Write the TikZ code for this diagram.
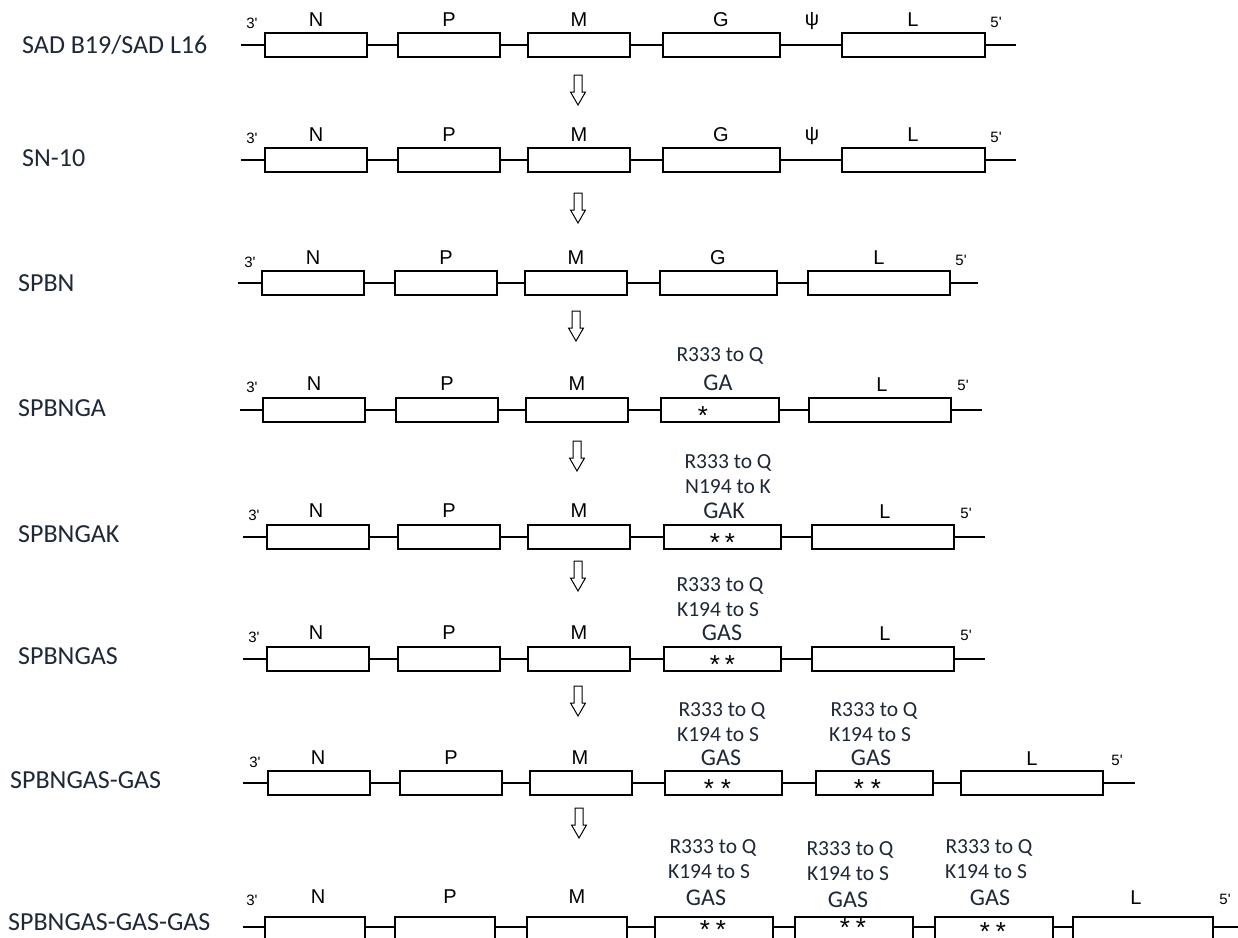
\documentclass[tikz,border=0pt]{standalone}
\usepackage{fontspec}
\setmainfont{Carlito}
\newfontfamily\arialf{Liberation Sans}
\definecolor{labc}{RGB}{30,40,55}
\newcommand{\gbox}[4]{\node[gene, minimum width={#3-#2}] (#1) at ({(#2+#3)/2},#4) {};}
\begin{document}
\begin{tikzpicture}[x=1pt,y=-1pt,
  gene/.style={draw, line width=1.3pt, rectangle, inner sep=0pt, minimum height=24},
  bb/.style={line width=1.3pt},
  glab/.style={font=\arialf\fontsize{20}{20}\selectfont, inner sep=0pt},
  endlab/.style={font=\arialf\fontsize{15}{15}\selectfont, inner sep=0pt},
  rowlab/.style={anchor=west, font=\fontsize{26}{26}\selectfont, text=labc, inner sep=0pt},
  mut/.style={font=\fontsize{21.5}{21.5}\selectfont, inner sep=0pt, text=labc},
  gas/.style={font=\fontsize{24}{24}\selectfont, inner sep=0pt, text=labc},
  star/.style={font=\arialf\fontsize{26}{26}\selectfont, inner sep=0pt, yshift=-14pt},
  downarr/.pic={\draw[line width=1pt, fill=white] (-4,0) -- (4,0) -- (4,17) -- (7.5,17) -- (0,30) -- (-7.5,17) -- (-4,17) -- cycle;}
]
\useasboundingbox[fill=white] (0,0) rectangle (1238,937);

% ---------- Row 1: SAD B19/SAD L16 ----------
\node[rowlab] (lab1) at (22,45) {SAD B19/SAD L16};
\coordinate (r1s) at (241,45);
\coordinate (r1e) at (1016,45);
\gbox{r1N}{265}{367}{45}
\gbox{r1P}{398}{500}{45}
\gbox{r1M}{528}{630}{45}
\gbox{r1G}{663}{780}{45}
\gbox{r1L}{842}{985}{45}
\draw[bb] (r1s) -- (r1N.west) (r1N.east) -- (r1P.west) (r1P.east) -- (r1M.west)
  (r1M.east) -- (r1G.west) (r1G.east) -- (r1L.west) (r1L.east) -- (r1e);
\node[endlab] (r1t3) at (252,23) {3'};
\node[glab] (r1Nl) at (316,20) {N};
\node[glab] (r1Pl) at (449,20) {P};
\node[glab] (r1Ml) at (579,20) {M};
\node[glab] (r1Gl) at (721,20) {G};
\node[glab] (r1psi) at (812,21) {ψ};
\node[glab] (r1Ll) at (913,20) {L};
\node[endlab] (r1t5) at (996,22) {5'};

\pic at (578,75) {downarr};

% ---------- Row 2: SN-10 ----------
\node[rowlab] (lab2) at (22,158) {SN-10};
\coordinate (r2s) at (241,160);
\coordinate (r2e) at (1016,160);
\gbox{r2N}{265}{367}{160}
\gbox{r2P}{398}{500}{160}
\gbox{r2M}{528}{630}{160}
\gbox{r2G}{663}{780}{160}
\gbox{r2L}{842}{985}{160}
\draw[bb] (r2s) -- (r2N.west) (r2N.east) -- (r2P.west) (r2P.east) -- (r2M.west)
  (r2M.east) -- (r2G.west) (r2G.east) -- (r2L.west) (r2L.east) -- (r2e);
\node[endlab] (r2t3) at (252,138) {3'};
\node[glab] (r2Nl) at (316,135) {N};
\node[glab] (r2Pl) at (449,135) {P};
\node[glab] (r2Ml) at (579,135) {M};
\node[glab] (r2Gl) at (721,135) {G};
\node[glab] (r2psi) at (812,136) {ψ};
\node[glab] (r2Ll) at (913,135) {L};
\node[endlab] (r2t5) at (996,137) {5'};

\pic at (578,193) {downarr};

% ---------- Row 3: SPBN ----------
\node[rowlab] (lab3) at (18,283) {SPBN};
\coordinate (r3s) at (238,283);
\coordinate (r3e) at (978,283);
\gbox{r3N}{262}{364}{283}
\gbox{r3P}{395}{497}{283}
\gbox{r3M}{525}{627}{283}
\gbox{r3G}{660}{777}{283}
\gbox{r3L}{808}{950}{283}
\draw[bb] (r3s) -- (r3N.west) (r3N.east) -- (r3P.west) (r3P.east) -- (r3M.west)
  (r3M.east) -- (r3G.west) (r3G.east) -- (r3L.west) (r3L.east) -- (r3e);
\node[endlab] (r3t3) at (250,262) {3'};
\node[glab] (r3Nl) at (313,258) {N};
\node[glab] (r3Pl) at (446,258) {P};
\node[glab] (r3Ml) at (576,258) {M};
\node[glab] (r3Gl) at (718,258) {G};
\node[glab] (r3Ll) at (879,258) {L};
\node[endlab] (r3t5) at (961,260) {5'};

\pic at (576,311) {downarr};

% ---------- Row 4: SPBNGA ----------
\node[rowlab] (lab4) at (18,408) {SPBNGA};
\coordinate (r4s) at (240,410);
\coordinate (r4e) at (982,410);
\gbox{r4N}{263}{365}{410}
\gbox{r4P}{396}{498}{410}
\gbox{r4M}{526}{628}{410}
\gbox{r4G}{661}{779}{410}
\gbox{r4L}{809}{951}{410}
\draw[bb] (r4s) -- (r4N.west) (r4N.east) -- (r4P.west) (r4P.east) -- (r4M.west)
  (r4M.east) -- (r4G.west) (r4G.east) -- (r4L.west) (r4L.east) -- (r4e);
\node[endlab] (r4t3) at (252,387) {3'};
\node[glab] (r4Nl) at (314,384) {N};
\node[glab] (r4Pl) at (447,384) {P};
\node[glab] (r4Ml) at (577,384) {M};
\node[mut] (r4m1) at (720,356) {R333 to Q};
\node[gas] (r4Gl) at (718,383) {GA};
\node[glab] (r4Ll) at (882,385) {L};
\node[endlab] (r4t5) at (963,385) {5'};
\node[star] (r4s1) at (703,410) {\smash{*}};

\pic at (577,441) {downarr};

% ---------- Row 5: SPBNGAK ----------
\node[rowlab] (lab5) at (18,534) {SPBNGAK};
\coordinate (r5s) at (243,537);
\coordinate (r5e) at (985,537);
\gbox{r5N}{267}{369}{537}
\gbox{r5P}{398}{500}{537}
\gbox{r5M}{528}{630}{537}
\gbox{r5G}{664}{781}{537}
\gbox{r5L}{812}{954}{537}
\draw[bb] (r5s) -- (r5N.west) (r5N.east) -- (r5P.west) (r5P.east) -- (r5M.west)
  (r5M.east) -- (r5G.west) (r5G.east) -- (r5L.west) (r5L.east) -- (r5e);
\node[endlab] (r5t3) at (254,515) {3'};
\node[glab] (r5Nl) at (316,511) {N};
\node[glab] (r5Pl) at (449,511) {P};
\node[glab] (r5Ml) at (579,511) {M};
\node[mut] (r5m1) at (728,463) {R333 to Q};
\node[mut] (r5m2) at (728,487) {N194 to K};
\node[gas] (r5Gl) at (724,511) {GAK};
\node[glab] (r5Ll) at (885,512) {L};
\node[endlab] (r5t5) at (966,513) {5'};
\node[star] (r5s1) at (715,537) {\smash{*}};
\node[star] (r5s2) at (730,537) {\smash{*}};

\pic at (578,561) {downarr};

% ---------- Row 6: SPBNGAS ----------
\node[rowlab] (lab6) at (18,656) {SPBNGAS};
\coordinate (r6s) at (243,659);
\coordinate (r6e) at (985,659);
\gbox{r6N}{267}{369}{659}
\gbox{r6P}{398}{500}{659}
\gbox{r6M}{528}{630}{659}
\gbox{r6G}{664}{781}{659}
\gbox{r6L}{812}{954}{659}
\draw[bb] (r6s) -- (r6N.west) (r6N.east) -- (r6P.west) (r6P.east) -- (r6M.west)
  (r6M.east) -- (r6G.west) (r6G.east) -- (r6L.west) (r6L.east) -- (r6e);
\node[endlab] (r6t3) at (254,637) {3'};
\node[glab] (r6Nl) at (316,633) {N};
\node[glab] (r6Pl) at (449,633) {P};
\node[glab] (r6Ml) at (579,633) {M};
\node[mut] (r6m1) at (720,586) {R333 to Q};
\node[mut] (r6m2) at (718,610) {K194 to S};
\node[gas] (r6Gl) at (722,633) {GAS};
\node[glab] (r6Ll) at (885,634) {L};
\node[endlab] (r6t5) at (966,635) {5'};
\node[star] (r6s1) at (715,659) {\smash{*}};
\node[star] (r6s2) at (730,659) {\smash{*}};

\pic at (578,686) {downarr};

% ---------- Row 7: SPBNGAS-GAS ----------
\node[rowlab] (lab7) at (10,780) {SPBNGAS-GAS};
\coordinate (r7s) at (243,783);
\coordinate (r7e) at (1135,783);
\gbox{r7N}{268}{370}{783}
\gbox{r7P}{400}{502}{783}
\gbox{r7M}{530}{632}{783}
\gbox{r7G}{665}{782}{783}
\gbox{r7H}{816}{933}{783}
\gbox{r7L}{961}{1103}{783}
\draw[bb] (r7s) -- (r7N.west) (r7N.east) -- (r7P.west) (r7P.east) -- (r7M.west)
  (r7M.east) -- (r7G.west) (r7G.east) -- (r7H.west) (r7H.east) -- (r7L.west) (r7L.east) -- (r7e);
\node[endlab] (r7t3) at (255,762) {3'};
\node[glab] (r7Nl) at (318,758) {N};
\node[glab] (r7Pl) at (451,758) {P};
\node[glab] (r7Ml) at (580,758) {M};
\node[mut] (r7m1) at (722,711) {R333 to Q};
\node[mut] (r7m2) at (718,735) {K194 to S};
\node[gas] (r7Gl) at (721,758) {GAS};
\node[mut] (r7n1) at (874,711) {R333 to Q};
\node[mut] (r7n2) at (870,735) {K194 to S};
\node[gas] (r7Hl) at (871,758) {GAS};
\node[glab] (r7Ll) at (1032,759) {L};
\node[endlab] (r7t5) at (1117,760) {5'};
\node[star] (r7s1) at (709,783) {\smash{*}};
\node[star] (r7s2) at (726,783) {\smash{*}};
\node[star] (r7s3) at (859,783) {\smash{*}};
\node[star] (r7s4) at (876,783) {\smash{*}};

\pic at (579,808) {downarr};

% ---------- Row 8: SPBNGAS-GAS-GAS ----------
\node[rowlab] (lab8) at (8,922) {SPBNGAS-GAS-GAS};
\coordinate (r8s) at (243,927);
\coordinate (r8e) at (1240,927);
\gbox{r8N}{265}{365}{929}
\gbox{r8P}{395}{495}{929}
\gbox{r8M}{527}{627}{929}
\gbox{r8G}{655}{773}{929}
\gbox{r8H}{795}{913}{929}
\gbox{r8I}{935}{1053}{929}
\gbox{r8L}{1073}{1213}{929}
\draw[bb] (r8s) -- (r8N.west |- r8s) (r8N.east |- r8s) -- (r8P.west |- r8s) (r8P.east |- r8s) -- (r8M.west |- r8s)
  (r8M.east |- r8s) -- (r8G.west |- r8s) (r8G.east |- r8s) -- (r8H.west |- r8s) (r8H.east |- r8s) -- (r8I.west |- r8s)
  (r8I.east |- r8s) -- (r8L.west |- r8s) (r8L.east |- r8s) -- (r8e);
\node[endlab] (r8t3) at (252,900) {3'};
\node[glab] (r8Nl) at (318,897) {N};
\node[glab] (r8Pl) at (450,897) {P};
\node[glab] (r8Ml) at (577,897) {M};
\node[mut] (r8m1) at (713,848) {R333 to Q};
\node[mut] (r8m2) at (709,872) {K194 to S};
\node[gas] (r8Gl) at (706,898) {GAS};
\node[mut] (r8n1) at (850,850) {R333 to Q};
\node[mut] (r8n2) at (848,874) {K194 to S};
\node[gas] (r8Hl) at (848,900) {GAS};
\node[mut] (r8o1) at (989,848) {R333 to Q};
\node[mut] (r8o2) at (986,872) {K194 to S};
\node[gas] (r8Il) at (990,898) {GAS};
\node[glab] (r8Ll) at (1136,898) {L};
\node[endlab] (r8t5) at (1225,899) {5'};
\node[star] (r8s1) at (705,924) {\smash{*}};
\node[star] (r8s2) at (721,924) {\smash{*}};
\node[star] (r8s3) at (845,922) {\smash{*}};
\node[star] (r8s4) at (861,922) {\smash{*}};
\node[star] (r8s5) at (985,926) {\smash{*}};
\node[star] (r8s6) at (1001,926) {\smash{*}};
\end{tikzpicture}
\end{document}
